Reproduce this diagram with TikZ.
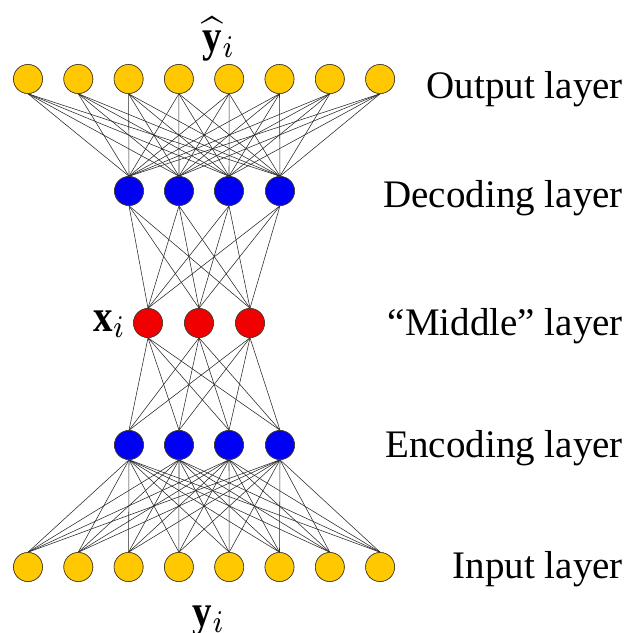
\documentclass[tikz,border=0pt]{standalone}
\usepackage{fontspec}
\setmainfont{Liberation Serif}
\definecolor{gold}{RGB}{255,200,0}
\definecolor{nblue}{RGB}{0,0,245}
\definecolor{nred}{RGB}{240,0,0}
\definecolor{rim}{RGB}{70,60,40}
\begin{document}
\begin{tikzpicture}[x=1pt,y=-1pt,
  neuron/.style={circle,draw=rim,line width=0.6pt,minimum size=29pt,inner sep=0pt},
  outn/.style={neuron,fill=gold},
  hidn/.style={neuron,fill=nblue},
  midn/.style={neuron,fill=nred},
  link/.style={draw=black!85,line width=0.55pt},
  lbl/.style={anchor=base east,inner sep=0pt,font=\fontsize{39}{46}\selectfont},
  mth/.style={anchor=base,inner sep=0pt}]
\useasboundingbox (0,0) rectangle (629,633);
% nodes
\foreach \i in {0,...,7} {
  \node[outn] (o\i) at ({28+50.3*\i},79) {};
  \node[outn] (n\i) at ({28+50.3*\i},567) {};
}
\foreach \i/\x in {0/129,1/179,2/229,3/280} {
  \node[hidn] (d\i) at (\x,191) {};
  \node[hidn] (e\i) at (\x,445) {};
}
\foreach \i/\x in {0/148,1/199,2/250} {
  \node[midn] (m\i) at (\x,323) {};
}
% connections
\foreach \i in {0,...,7} \foreach \j in {0,...,3} {
  \draw[link] (o\i.south) -- (d\j.north);
  \draw[link] (e\j.south) -- (n\i.north);
}
\foreach \j in {0,...,3} \foreach \k in {0,...,2} {
  \draw[link] (d\j.south) -- (m\k.north);
  \draw[link] (m\k.south) -- (e\j.north);
}
% redraw nodes on top
\foreach \i in {0,...,7} {
  \node[outn] at (o\i) {};
  \node[outn] at (n\i) {};
}
\foreach \i in {0,...,3} {
  \node[hidn] at (d\i) {};
  \node[hidn] at (e\i) {};
}
\foreach \k in {0,...,2} {
  \node[midn] at (m\k) {};
}
% labels
\node[lbl] (lo) at (623,98) {Output layer};
\node[lbl] (ld) at (623,207) {Decoding layer};
\node[lbl] (lm) at (623,335) {``Middle'' layer};
\node[lbl] (le) at (623,457) {Encoding layer};
\node[lbl] (li) at (623,578) {Input layer};
% math labels
\node[mth] (yh) at (219,51) {\scalebox{3.9}[4.5]{$\widehat{\mathbf{y}}_i$}};
\node[mth] (yy) at (209,626) {\scalebox{3.9}[4.5]{$\mathbf{y}_i$}};
\node[mth,anchor=base east] (xx) at (126,331) {\scalebox{3.9}[4.5]{$\mathbf{x}_i$}};
\end{tikzpicture}
\end{document}
